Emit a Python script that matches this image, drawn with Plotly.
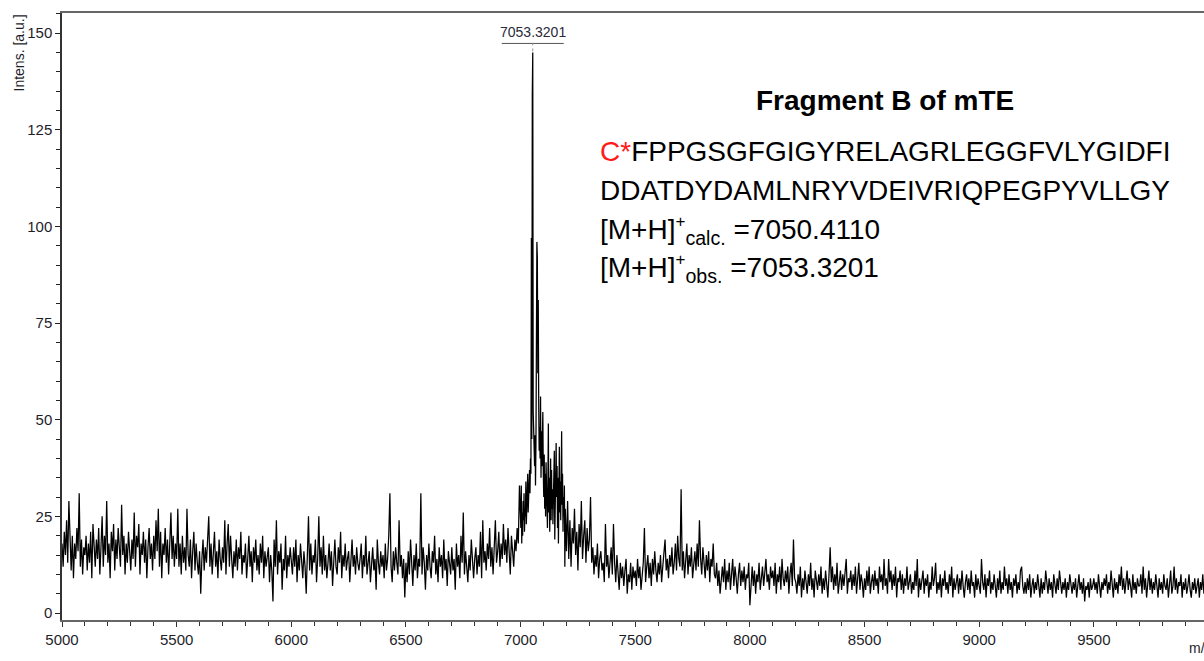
import plotly.graph_objects as go

# ---------------- data (intensities, a.u.) ----------------
STEP = 5  # m/z spacing of the baseline segments
int_5000 = [18, 12, 21, 15, 24, 13, 29, 17, 11, 20,
            9, 18, 14, 22, 16, 31, 12, 19, 10, 17,
            15, 20, 11, 18, 13, 21, 9, 23, 16, 12,
            19, 14, 22, 10, 17, 25, 12, 20, 15, 29,
            13, 18, 9, 21, 16, 23, 11, 19, 14, 22,
            17, 12, 28, 15, 20, 10, 18, 13, 21, 16,
            11, 19, 14, 26, 12, 20, 17, 23, 10, 18,
            15, 21, 13, 19, 9, 17, 22, 14, 18, 11,
            20, 14, 24, 16, 27, 12, 21, 9, 18, 15,
            22, 13, 19, 10, 17, 26, 14, 20, 12, 18]
int_5500 = [14, 27, 12, 18, 10, 20, 13, 17, 11, 27,
            15, 12, 19, 9, 16, 21, 11, 18, 13, 10,
            16, 5, 14, 19, 11, 17, 13, 20, 25, 12,
            18, 10, 15, 21, 12, 16, 9, 19, 14, 11,
            17, 13, 24, 10, 18, 23, 12, 20, 14, 9,
            16, 12, 19, 11, 17, 14, 21, 10, 15, 13,
            18, 9, 14, 20, 12, 16, 8, 17, 13, 19,
            11, 15, 10, 18, 13, 20, 9, 16, 12, 14,
            17, 8, 15, 11, 3, 19, 12, 24, 10, 16,
            13, 18, 6, 14, 11, 20, 9, 15, 12, 17]
int_6000 = [14, 10, 17, 12, 19, 8, 15, 11, 18, 13,
            9, 16, 12, 5, 14, 25, 11, 18, 10, 15,
            13, 19, 8, 14, 25, 12, 17, 10, 20, 11,
            15, 9, 13, 18, 11, 16, 7, 14, 19, 12,
            10, 17, 13, 21, 9, 15, 12, 18, 11, 14,
            16, 8, 13, 19, 12, 15, 10, 17, 13, 11,
            14, 18, 9, 15, 12, 20, 10, 13, 16, 8,
            12, 17, 11, 14, 6, 19, 13, 10, 16, 12,
            15, 9, 18, 11, 14, 20, 31, 12, 8, 16,
            11, 17, 13, 10, 24, 12, 15, 9, 14, 4]
int_6500 = [13, 8, 16, 10, 19, 12, 7, 15, 11, 18,
            9, 14, 12, 31, 10, 17, 13, 6, 15, 11,
            18, 12, 9, 16, 13, 20, 10, 14, 8, 17,
            12, 15, 9, 19, 11, 14, 7, 16, 13, 10,
            17, 11, 14, 6, 18, 12, 15, 9, 20, 13,
            26, 10, 16, 12, 8, 15, 11, 19, 13, 9,
            14, 17, 10, 15, 12, 21, 9, 24, 13, 16,
            11, 18, 14, 22, 12, 17, 10, 19, 24, 13,
            16, 21, 12, 18, 14, 23, 15, 19, 13, 22,
            17, 10, 20, 15, 12, 19, 16, 22, 18, 33]
PEAK_START, PEAK_STEP = 7001, 2  # finer sampling across the main peak
int_7001 = [22, 33, 18, 26, 20, 29, 24, 31, 21, 27,
            25, 34, 23, 30, 27, 36, 26, 33, 29, 37,
            31, 40, 36, 97, 45, 134, 145, 52, 44, 48,
            38, 46, 33, 44, 70, 96, 92, 62, 81, 54,
            42, 48, 40, 56, 35, 47, 38, 44, 52, 36,
            30, 41, 27, 36, 25, 39, 28, 34, 22, 33,
            49, 26, 35, 21, 31, 40, 24, 37, 27, 32,
            23, 36, 28, 42, 19, 33, 25, 44, 30, 38,
            22, 35, 18, 31, 43, 26, 34, 24, 39, 47,
            28, 36, 21, 30, 25, 33, 12, 27, 19, 24]
int_7200 = [16, 29, 14, 24, 12, 22, 18, 27, 15, 21,
            11, 23, 17, 29, 14, 20, 24, 13, 22, 16,
            19, 30, 13, 17, 10, 15, 12, 18, 9, 14,
            16, 11, 13, 8, 23, 12, 15, 9, 14, 17,
            10, 23, 13, 8, 15, 11, 6, 13, 9, 12,
            7, 11, 14, 5, 10, 8, 13, 6, 12, 9,
            11, 7, 14, 9, 12, 6, 10, 13, 22, 8,
            12, 15, 9, 13, 7, 14, 10, 16, 11, 8,
            13, 10, 15, 8, 12, 16, 19, 11, 14, 9,
            15, 12, 17, 10, 13, 18, 11, 20, 14, 12]
int_7700 = [32, 11, 16, 9, 14, 18, 10, 15, 12, 17,
            9, 13, 16, 11, 18, 12, 24, 14, 10, 17,
            13, 9, 15, 11, 16, 8, 14, 12, 18, 10,
            9, 13, 7, 11, 5, 10, 12, 8, 14, 6,
            11, 8, 13, 6, 10, 14, 7, 12, 9, 5,
            10, 13, 7, 11, 8, 12, 6, 10, 9, 13,
            2, 9, 12, 7, 11, 5, 10, 8, 13, 6,
            9, 12, 7, 11, 14, 8, 10, 6, 12, 9,
            11, 7, 13, 5, 10, 8, 12, 6, 14, 9,
            7, 11, 8, 12, 5, 10, 13, 7, 19, 9]
int_8200 = [8, 5, 10, 7, 12, 4, 9, 6, 11, 8,
            5, 10, 7, 13, 6, 9, 4, 11, 8, 6,
            10, 7, 12, 5, 9, 6, 11, 8, 4, 10,
            17, 8, 12, 6, 10, 7, 13, 5, 9, 11,
            6, 10, 7, 12, 14, 5, 9, 8, 11, 6,
            10, 7, 12, 5, 9, 13, 6, 10, 8, 4,
            9, 6, 11, 7, 12, 5, 8, 10, 6, 11,
            7, 9, 5, 12, 8, 10, 6, 14, 7, 9,
            5, 14, 8, 11, 6, 10, 7, 12, 4, 9,
            8, 11, 6, 10, 5, 9, 7, 12, 6, 8]
int_8700 = [10, 5, 8, 6, 11, 7, 14, 4, 9, 6,
            8, 11, 5, 9, 7, 10, 4, 8, 6, 12,
            7, 9, 13, 5, 8, 6, 10, 4, 9, 7,
            11, 6, 8, 5, 10, 7, 12, 4, 9, 6,
            8, 10, 5, 9, 6, 11, 7, 4, 8, 10,
            6, 9, 5, 11, 7, 8, 4, 10, 6, 9,
            7, 5, 14, 8, 6, 10, 4, 9, 7, 11,
            5, 8, 6, 10, 7, 4, 9, 6, 11, 5,
            8, 6, 12, 7, 9, 5, 10, 6, 8, 4,
            9, 7, 10, 5, 8, 6, 11, 12, 7, 5]
int_9200 = [8, 5, 9, 6, 10, 4, 7, 9, 5, 8,
            6, 10, 7, 4, 9, 5, 8, 6, 11, 7,
            5, 9, 6, 8, 4, 10, 7, 5, 9, 6,
            11, 7, 5, 8, 6, 9, 4, 8, 6, 10,
            7, 5, 8, 6, 9, 4, 7, 10, 6, 8,
            5, 9, 3, 7, 6, 8, 4, 9, 6, 7,
            9, 6, 8, 5, 10, 7, 4, 8, 6, 9,
            7, 10, 5, 8, 6, 11, 7, 4, 9, 6,
            8, 5, 10, 7, 12, 6, 9, 5, 8, 11,
            6, 9, 7, 4, 10, 6, 8, 5, 9, 7]
int_9700 = [7, 10, 5, 12, 6, 9, 4, 8, 11, 6,
            9, 5, 8, 6, 10, 7, 4, 9, 6, 8,
            5, 10, 7, 6, 9, 4, 8, 11, 5, 7,
            12, 6, 9, 5, 8, 7, 10, 4, 8, 6,
            9, 5, 7, 10, 6, 4, 8, 6, 9, 5,
            7, 9, 4, 8, 6, 10, 5, 7, 3, 8]

segments = [(5000, STEP, int_5000), (5500, STEP, int_5500), (6000, STEP, int_6000),
            (6500, STEP, int_6500), (PEAK_START, PEAK_STEP, int_7001),
            (7200, STEP, int_7200), (7700, STEP, int_7700), (8200, STEP, int_8200),
            (8700, STEP, int_8700), (9200, STEP, int_9200), (9700, STEP, int_9700)]

x_ticks = [5000, 5500, 6000, 6500, 7000, 7500, 8000, 8500, 9000, 9500]
y_ticks = [0, 25, 50, 75, 100, 125, 150]

title_text = "Fragment B of mTE"
seq_line1_red = "C*"
seq_line1 = "FPPGSGFGIGYRELAGRLEGGFVLYGIDFI"
seq_line2 = "DDATDYDAMLNRYVDEIVRIQPEGPYVLLGY"
mass_calc = "7050.4110"
mass_obs = "7053.3201"

# ---------------- build ----------------
mz, inten = [], []
for start, step, vals in segments:
    for i, v in enumerate(vals):
        mz.append(start + step * i)
        inten.append(v)

ipk = max(range(len(inten)), key=lambda k: inten[k])
pk_x, pk_y = mz[ipk], inten[ipk]

W, H = 1204, 661
ML, MR, MT, MB = 62, 0, 13, 41
PW, PH = W - ML - MR, H - MT - MB
def px(xp):
    return (xp - ML) / PW
def py(yp):
    return (H - MB - yp) / PH

TICKFONT = dict(family="Liberation Sans Narrow, Arial Narrow, Liberation Sans, sans-serif",
                size=15, color="#1e1e2a")
TXT = "Liberation Sans, Arial, sans-serif"

fig = go.Figure()
fig.add_trace(go.Scatter(x=mz, y=inten, mode="lines",
                         line=dict(color="black", width=1.25), hoverinfo="skip",
                         showlegend=False))

x_max = 5000 + PW / 0.2293
fig.update_layout(
    width=W, height=H, margin=dict(l=ML, r=MR, t=MT, b=MB, pad=0),
    paper_bgcolor="white", plot_bgcolor="white", showlegend=False,
    xaxis=dict(range=[5000, x_max], tickmode="array", tickvals=x_ticks,
               ticktext=[str(t) for t in x_ticks], ticks="outside", ticklen=5,
               tickcolor="#333", tickwidth=1, showline=True, linecolor="#666",
               linewidth=1.5, mirror=True, showgrid=False, zeroline=False,
               tickfont=TICKFONT,
               minor=dict(dtick=100, tick0=5000, ticks="outside", ticklen=4,
                          tickcolor="#333", showgrid=False)),
    yaxis=dict(range=[-1.8, 155.2], tickmode="array", tickvals=y_ticks,
               ticks="outside", ticklen=5, tickcolor="#222", tickwidth=1,
               showline=True, linecolor="#333", linewidth=1.5, showgrid=False,
               zeroline=False, tickfont=TICKFONT,
               minor=dict(dtick=5, tick0=0, ticks="outside", ticklen=4,
                          tickcolor="#222", showgrid=False)),
)

SUP = "<sup><span style='font-size:17px'>+</span></sup>"
annotations = [
    dict(text="Intens. [a.u.]", textangle=-90, xref="paper", yref="paper",
         x=px(18), y=py(13), xanchor="center", yanchor="top", showarrow=False,
         font=dict(family=TICKFONT["family"], size=14, color="#1e1e2a")),
    dict(text="m/z", xref="paper", yref="paper", x=px(1187), y=py(648),
         xanchor="left", yanchor="middle", showarrow=False,
         font=dict(family=TICKFONT["family"], size=14, color="#1e1e2a")),
    dict(text=mass_obs, xref="x", yref="y", x=pk_x, y=pk_y, yshift=10,
         xanchor="center", yanchor="bottom", showarrow=False,
         font=dict(family=TICKFONT["family"], size=14, color="#2a2a3a")),
    dict(text="<b>" + title_text + "</b>", xref="paper", yref="paper",
         x=px(885), y=py(100), xanchor="center", yanchor="middle",
         showarrow=False, font=dict(family=TXT, size=28, color="black")),
    dict(text="<span style='color:#ff1a1a'>" + seq_line1_red + "</span>" + seq_line1,
         xref="paper", yref="paper", x=px(598), y=py(151), xanchor="left",
         yanchor="middle", showarrow=False, font=dict(family=TXT, size=28, color="black")),
    dict(text=seq_line2, xref="paper", yref="paper", x=px(598), y=py(190),
         xanchor="left", yanchor="middle", showarrow=False,
         font=dict(family=TXT, size=28, color="black")),
    dict(text="[M+H]" + SUP + "<sub>calc.</sub> =" + mass_calc, xref="paper",
         yref="paper", x=px(598), y=py(230), xanchor="left", yanchor="middle",
         showarrow=False, font=dict(family=TXT, size=28, color="black")),
    dict(text="[M+H]" + SUP + "<sub>obs.</sub> =" + mass_obs, xref="paper",
         yref="paper", x=px(598), y=py(268), xanchor="left", yanchor="middle",
         showarrow=False, font=dict(family=TXT, size=28, color="black")),
]
fig.update_layout(annotations=annotations)

fig.add_shape(type="line", xref="x", yref="y", xsizemode="pixel", ysizemode="pixel",
              xanchor=pk_x, yanchor=pk_y, x0=-31, x1=31, y0=9, y1=9,
              line=dict(color="#555", width=1))
fig.add_shape(type="line", xref="x", yref="y", xsizemode="pixel", ysizemode="pixel",
              xanchor=pk_x, yanchor=pk_y, x0=0, x1=0, y0=1, y1=9,
              line=dict(color="#999", width=1, dash="dot"))

fig.write_html("out.html")
